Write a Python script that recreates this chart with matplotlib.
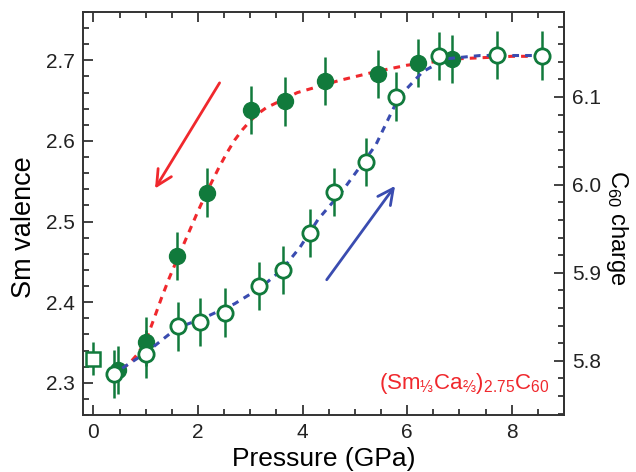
import numpy as np
import matplotlib
matplotlib.use('Agg')
import matplotlib.pyplot as plt
from matplotlib.ticker import MultipleLocator

plt.rcParams['font.family'] = ['Liberation Sans', 'DejaVu Sans']
plt.rcParams['mathtext.default'] = 'regular'

# compression (open circles)
p_up = [0.40, 1.01, 1.62, 2.04, 2.52, 3.17, 3.63, 4.14, 4.60, 5.22, 5.78, 6.60, 7.71, 8.57]
v_up = [2.311, 2.336, 2.370, 2.375, 2.387, 2.420, 2.440, 2.486, 2.537, 2.574, 2.655, 2.705, 2.707, 2.706]
# decompression (filled circles)
p_down = [0.46, 1.01, 1.60, 2.18, 3.02, 3.66, 4.42, 5.44, 6.20, 6.85]
v_down = [2.316, 2.351, 2.457, 2.536, 2.638, 2.649, 2.674, 2.683, 2.697, 2.702]
err = 0.03
# ambient pressure (square)
p_amb = [0.0]
v_amb = [2.330]
err_amb = 0.021

# dashed guide lines
red_x = [0.55, 0.7, 0.85, 1.0, 1.15, 1.3, 1.45, 1.6, 1.8, 2.0, 2.2, 2.4, 2.55, 2.7, 2.85,
         3.0, 3.15, 3.3, 3.9, 4.7, 5.4, 6.0, 7.0, 8.0, 8.6]
red_y = [2.317, 2.325, 2.336, 2.352, 2.378, 2.405, 2.43, 2.453, 2.483, 2.513, 2.541, 2.567,
         2.585, 2.601, 2.614, 2.625, 2.634, 2.641, 2.66, 2.675, 2.686, 2.694, 2.702, 2.705, 2.705]
blue_x = [0.55, 1.0, 1.6, 2.1, 2.7, 3.2, 3.6, 3.95, 4.3, 4.75, 5.1, 5.4, 5.6, 5.75, 5.95,
          6.3, 6.75, 7.4, 8.6]
blue_y = [2.318, 2.337, 2.368, 2.38, 2.398, 2.418, 2.44, 2.468, 2.503, 2.537, 2.568, 2.595,
          2.622, 2.642, 2.662, 2.686, 2.702, 2.706, 2.706]

green = '#117a3c'
red = '#f0282d'
blue = '#3a4cb0'


def v2c(v):
    return 2.75 * (np.asarray(v) + 4.0) / 3.0


def c2v(c):
    return np.asarray(c) * 3.0 / 2.75 - 4.0


fig, ax = plt.subplots(figsize=(6.36, 4.72), dpi=100)
fig.subplots_adjust(left=0.1305, right=0.8868, top=0.9746, bottom=0.1208)

ax.plot(red_x, red_y, color=red, lw=2.2, ls=(0, (2.2, 2.0)), zorder=1)
ax.errorbar(p_down, v_down, yerr=err, fmt='o', ms=11.5, color=green, mfc=green, mec=green,
            elinewidth=1.8, capsize=0, zorder=2)
ax.plot(blue_x, blue_y, color=blue, lw=2.2, ls=(0, (2.2, 2.0)), zorder=3)
ax.errorbar(p_up, v_up, yerr=err, fmt='o', ms=11, color=green, mfc='white', mec=green, mew=2,
            elinewidth=1.8, capsize=0, zorder=4)
ax.errorbar(p_amb, v_amb, yerr=err_amb, fmt='s', ms=10, color=green, mfc='white', mec=green,
            mew=1.8, elinewidth=1.8, capsize=0, zorder=4)

ax.annotate('', xy=(1.15, 2.538), xytext=(2.44, 2.675),
            arrowprops=dict(arrowstyle='->', color=red, lw=2, mutation_scale=28))
ax.annotate('', xy=(5.80, 2.547), xytext=(4.43, 2.425),
            arrowprops=dict(arrowstyle='->', color=blue, lw=2, mutation_scale=28))

ax.text(8.72, 2.2925, '(Sm$_{⅓}$Ca$_{⅔}$)$_{2.75}$C$_{60}$', color=red, fontsize=16,
        ha='right', va='baseline')

ax.set_xlim(-0.2, 9.0)
ax.set_ylim(2.26, 2.76)
ax.xaxis.set_major_locator(MultipleLocator(2))
ax.xaxis.set_minor_locator(MultipleLocator(0.5))
ax.yaxis.set_major_locator(MultipleLocator(0.1))
ax.yaxis.set_minor_locator(MultipleLocator(0.02))
ax.tick_params(which='both', direction='in', top=True, right=False, labelsize=15, colors='#222222')
ax.tick_params(which='major', length=7, width=1.2, pad=6)
ax.tick_params(which='minor', length=4, width=1.2)
for s in ax.spines.values():
    s.set_linewidth(1.4)
    s.set_color('#333333')

ax.set_xlabel('Pressure (GPa)', fontsize=19, va='center')
ax.xaxis.set_label_coords(0.5, -0.109)
ax.set_ylabel('Sm valence', fontsize=19.5, va='center', ha='center')
ax.yaxis.set_label_coords(-0.123, 0.466)

sec = ax.secondary_yaxis('right', functions=(v2c, c2v))
sec.yaxis.set_major_locator(MultipleLocator(0.1))
sec.yaxis.set_minor_locator(MultipleLocator(0.02))
sec.yaxis.set_major_formatter(matplotlib.ticker.FormatStrFormatter('%.1f'))
sec.tick_params(which='both', direction='in', labelsize=15, colors='#222222')
sec.tick_params(which='major', length=7, width=1.2, pad=6)
sec.tick_params(which='minor', length=4, width=1.2)
sec.spines['right'].set_linewidth(1.4)
sec.spines['right'].set_color('#333333')
ax.text(1.110, 0.465, 'C$_{60}$ charge', fontsize=17, rotation=270, ha='center', va='center',
        transform=ax.transAxes)

fig.savefig('out.png', dpi=100)
